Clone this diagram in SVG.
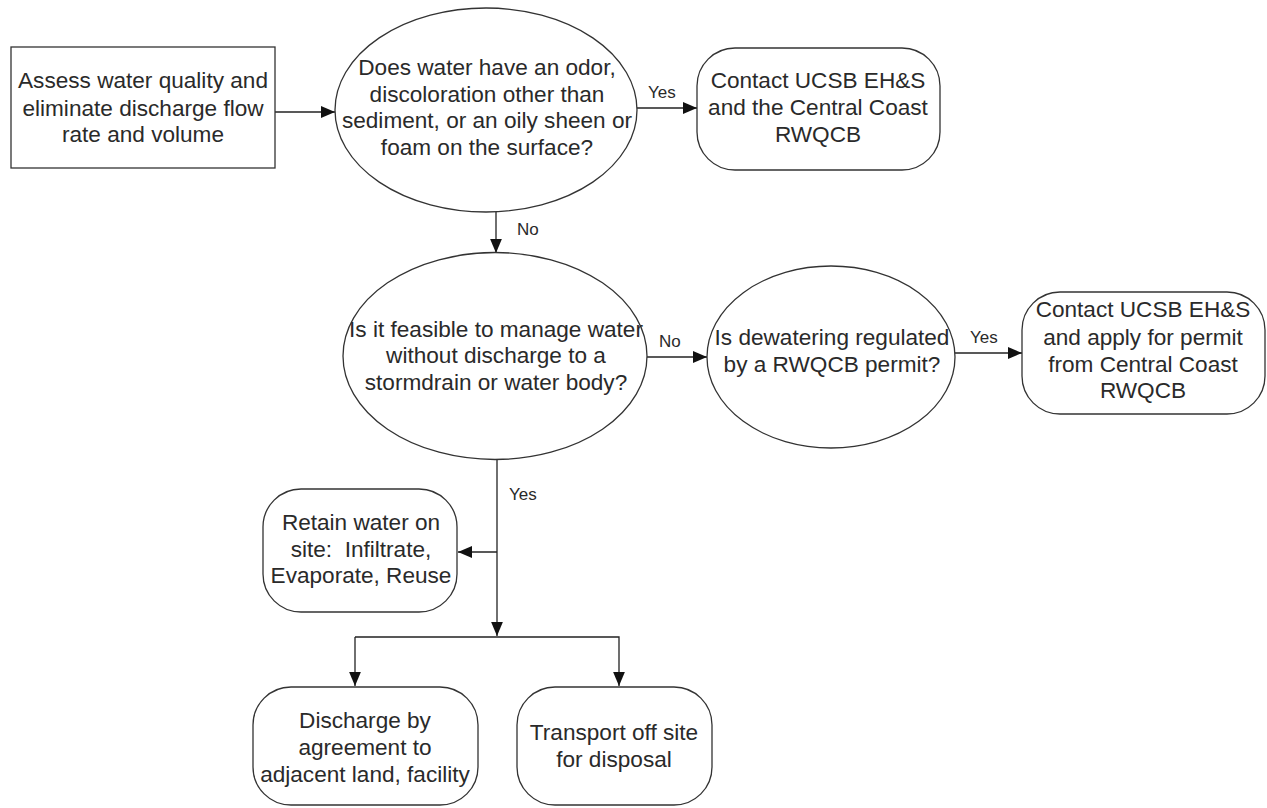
<svg xmlns="http://www.w3.org/2000/svg" width="1267" height="808" viewBox="0 0 1267 808">
<style>
.s{fill:#fff;stroke:#333;stroke-width:1.3}
.t{font-family:"Liberation Sans",Arial,sans-serif;font-size:22.6px;fill:#2a2a2a;text-anchor:middle}
.l{font-family:"Liberation Sans",Arial,sans-serif;font-size:17px;fill:#2a2a2a}
.c{fill:none;stroke:#222;stroke-width:1.3}
</style>
<defs>
<marker id="a" viewBox="0 0 10 10" refX="10" refY="5" markerWidth="14" markerHeight="14" markerUnits="userSpaceOnUse" orient="auto">
<path d="M0,0.8 L10,5 L0,9.2 Z" fill="#111"/>
</marker>
</defs>
<rect width="1267" height="808" fill="#fff"/>
<g id="connectors">
<line class="c" x1="275" y1="112" x2="335" y2="112" marker-end="url(#a)"/>
<line class="c" x1="637" y1="108" x2="697" y2="108" marker-end="url(#a)"/>
<line class="c" x1="496" y1="212" x2="496" y2="253" marker-end="url(#a)"/>
<line class="c" x1="647" y1="357" x2="707" y2="357" marker-end="url(#a)"/>
<line class="c" x1="955" y1="353" x2="1022" y2="353" marker-end="url(#a)"/>
<line class="c" x1="497" y1="460" x2="497" y2="636" marker-end="url(#a)"/>
<line class="c" x1="497" y1="552" x2="458" y2="552" marker-end="url(#a)"/>
<polyline class="c" points="355,637 619,637 619,686" marker-end="url(#a)"/>
<line class="c" x1="355" y1="637" x2="355" y2="686" marker-end="url(#a)"/>
<text class="l" x="648" y="98">Yes</text>
<text class="l" x="517" y="235">No</text>
<text class="l" x="659" y="347">No</text>
<text class="l" x="970" y="343">Yes</text>
<text class="l" x="509" y="500">Yes</text>
</g>
<g id="n1">
<rect class="s" x="11" y="47" width="264" height="121"/>
<text class="t" x="143" y="88">Assess water quality and</text>
<text class="t" x="143" y="116">eliminate discharge flow</text>
<text class="t" x="143" y="142">rate and volume</text>
</g>
<g id="n2">
<ellipse class="s" cx="486" cy="110" rx="151" ry="102"/>
<text class="t" x="487" y="75">Does water have an odor,</text>
<text class="t" x="487" y="102">discoloration other than</text>
<text class="t" x="487" y="128">sediment, or an oily sheen or</text>
<text class="t" x="487" y="155">foam on the surface?</text>
</g>
<g id="n3">
<rect class="s" x="697" y="48" width="243" height="122" rx="38"/>
<text class="t" x="818" y="88">Contact UCSB EH&amp;S</text>
<text class="t" x="818" y="115">and the Central Coast</text>
<text class="t" x="818" y="142">RWQCB</text>
</g>
<g id="n4">
<ellipse class="s" cx="495" cy="356" rx="152" ry="103.5"/>
<text class="t" x="496" y="337">Is it feasible to manage water</text>
<text class="t" x="496" y="363">without discharge to a</text>
<text class="t" x="496" y="390">stormdrain or water body?</text>
</g>
<g id="n5">
<ellipse class="s" cx="831" cy="357" rx="124" ry="91"/>
<text class="t" x="832" y="345">Is dewatering regulated</text>
<text class="t" x="832" y="372">by a RWQCB permit?</text>
</g>
<g id="n6">
<rect class="s" x="1022" y="292" width="243" height="122" rx="38"/>
<text class="t" x="1143" y="317">Contact UCSB EH&amp;S</text>
<text class="t" x="1143" y="345">and apply for permit</text>
<text class="t" x="1143" y="372">from Central Coast</text>
<text class="t" x="1143" y="398">RWQCB</text>
</g>
<g id="n7">
<rect class="s" x="263" y="489" width="194" height="123" rx="38"/>
<text class="t" x="361" y="530">Retain water on</text>
<text class="t" x="361" y="557">site:&#160; Infiltrate,</text>
<text class="t" x="361" y="583">Evaporate, Reuse</text>
</g>
<g id="n8">
<rect class="s" x="253" y="687" width="225" height="118" rx="38"/>
<text class="t" x="365" y="728">Discharge by</text>
<text class="t" x="365" y="755">agreement to</text>
<text class="t" x="365" y="782">adjacent land, facility</text>
</g>
<g id="n9">
<rect class="s" x="517" y="687" width="195" height="118" rx="38"/>
<text class="t" x="614" y="740">Transport off site</text>
<text class="t" x="614" y="767">for disposal</text>
</g>
</svg>
